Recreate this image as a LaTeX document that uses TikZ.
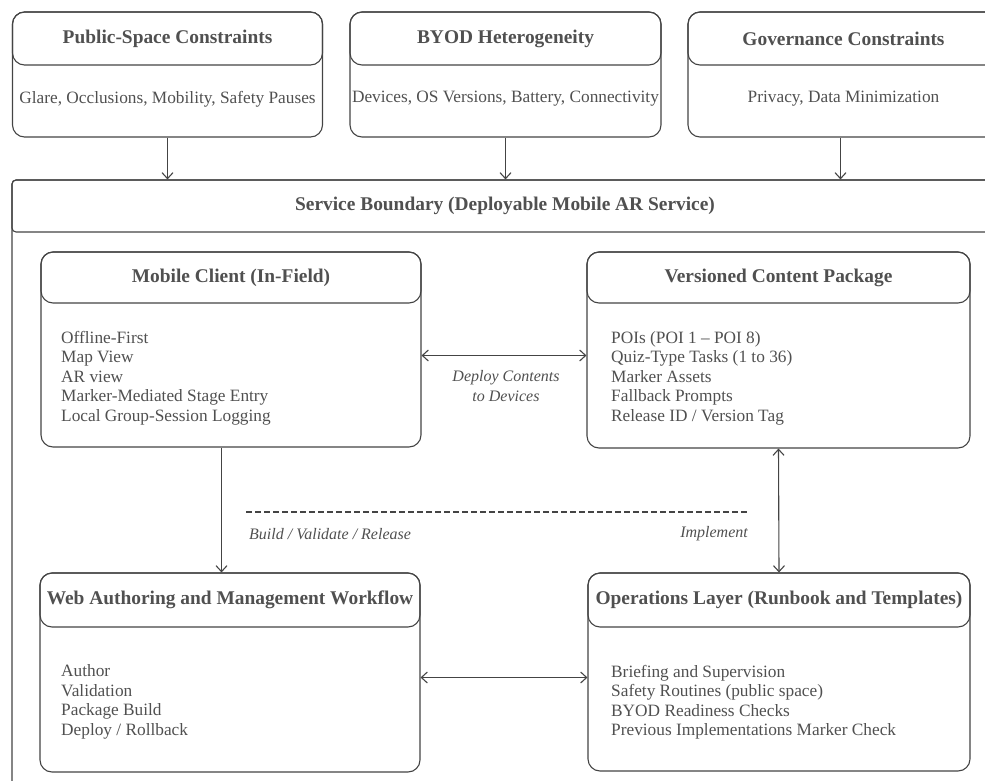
\documentclass[tikz,border=0pt]{standalone}
\usepackage{fontspec}
\setmainfont{Liberation Serif}
\usetikzlibrary{arrows.meta}

\definecolor{linegray}{HTML}{444444}
\definecolor{textgray}{HTML}{505050}

\tikzset{
  panel/.style={draw=linegray, line width=1.1pt, rounded corners=12pt, inner sep=0pt},
  panelhead/.style={panel, font=\bfseries\fontsize{19.4}{22}\selectfont, text=textgray},
  items/.style={align=left, font=\fontsize{17.3}{19.5}\selectfont, text=textgray, inner sep=0pt},
  flowlabel/.style={align=center, font=\itshape\fontsize{16}{19.5}\selectfont, text=textgray, inner sep=0pt},
  barb/.tip={Straight Barb[length=6pt,width=11pt]},
  arr/.style={draw=linegray, line width=1.1pt, -barb},
  biarr/.style={arr, barb-barb},
}

\begin{document}
\begin{tikzpicture}[x=1pt, y=-1pt]
    \useasboundingbox (0,0) rectangle (985,781);
    \clip (0,0) rectangle (985,781);

    % outside constraints
    \node[panel, minimum width=310pt, minimum height=125pt] (pub) at (167.5,74.5) {};
    \node[panelhead, minimum width=310pt, minimum height=53pt, anchor=north] (pubH) at (pub.north) {Public-Space Constraints};
    \node[items] (pubB) at (167.5,99) {Glare, Occlusions, Mobility, Safety Pauses};
    \node[panel, minimum width=311pt, minimum height=125pt] (byod) at (505.5,74.5) {};
    \node[panelhead, minimum width=311pt, minimum height=53pt, anchor=north] (byodH) at (byod.north) {BYOD Heterogeneity};
    \node[items] (byodB) at (505.5,99) {Devices, OS Versions, Battery, Connectivity};
    \node[panel, minimum width=311pt, minimum height=125pt] (gov) at (843.5,74.5) {};
    \node[panelhead, minimum width=311pt, minimum height=53pt, anchor=north] (govH) at (gov.north) {Governance Constraints};
    \node[items] (govB) at (843.5,99) {Privacy, Data Minimization};

    % service boundary
    \node[panel, rounded corners=4pt, minimum width=986pt, minimum height=650pt] (sb) at (505,505) {};
    \node[panelhead, rounded corners=4pt, minimum width=986pt, minimum height=52pt, anchor=north] (sbH) at (sb.north) {Service Boundary (Deployable Mobile AR Service)};

    \node[panel, minimum width=380pt, minimum height=195pt] (mc) at (231,349.5) {};
    \node[panelhead, minimum width=380pt, minimum height=51pt, anchor=north] (mcH) at (mc.north) {Mobile Client (In-Field)};
    \node[items, anchor=west] (mcB) at (61,378) {Offline-First\\Map View\\AR view\\Marker-Mediated Stage Entry\\Local Group-Session Logging};

    \node[panel, minimum width=383pt, minimum height=196pt] (vcp) at (778.5,350) {};
    \node[panelhead, minimum width=383pt, minimum height=51pt, anchor=north] (vcpH) at (vcp.north) {Versioned Content Package};
    \node[items, anchor=west] (vcpB) at (611,378) {POIs (POI 1 – POI 8)\\Quiz-Type Tasks (1 to 36)\\Marker Assets\\Fallback Prompts\\Release ID / Version Tag};

    \node[panel, minimum width=380pt, minimum height=199pt] (web) at (230,672.5) {};
    \node[panelhead, minimum width=380pt, minimum height=54pt, anchor=north] (webH) at (web.north) {Web Authoring and Management Workflow};
    \node[items, anchor=west] (webB) at (61,702) {Author\\Validation\\Package Build\\Deploy / Rollback};

    \node[panel, minimum width=382pt, minimum height=198pt] (ops) at (779,672) {};
    \node[panelhead, minimum width=382pt, minimum height=54pt, anchor=north] (opsH) at (ops.north) {Operations Layer (Runbook and Templates)};
    \node[items, anchor=west] (opsB) at (611,702) {Briefing and Supervision\\Safety Routines (public space)\\BYOD Readiness Checks\\Previous Implementations Marker Check};

    % flow labels
    \node[flowlabel] (deploy) at (506,386) {Deploy Contents\\to Devices};
    \node[flowlabel, anchor=west] (build) at (249,534) {Build / Validate / Release};
    \node[flowlabel, anchor=east] (impl) at (748,534) {Implement};

    \coordinate (dl) at (246,512);
    \coordinate (dr) at (748,512);
    \coordinate (hy) at (0,355.5);
    \coordinate (ly) at (0,677.5);
    \coordinate (bx) at (221.5,0);
    \coordinate (gx) at (840.5,0);

    \draw[linegray, line width=1.1pt, dash pattern=on 5.5pt off 3.5pt] (dl) -- (dr);

    \path
      (pub.south) edge[arr] (pub.south |- sb.north)
      (byod.south) edge[arr] (byod.south |- sb.north)
      (gov.south -| gx) edge[arr] (sb.north -| gx)
      (mc.south -| bx) edge[arr] (web.north -| bx)
      (mc.east |- hy) edge[biarr] (vcp.west |- hy)
      (vcp.south) edge[biarr] (ops.north)
      (web.east |- ly) edge[biarr] (ops.west |- ly);
\end{tikzpicture}
\end{document}
